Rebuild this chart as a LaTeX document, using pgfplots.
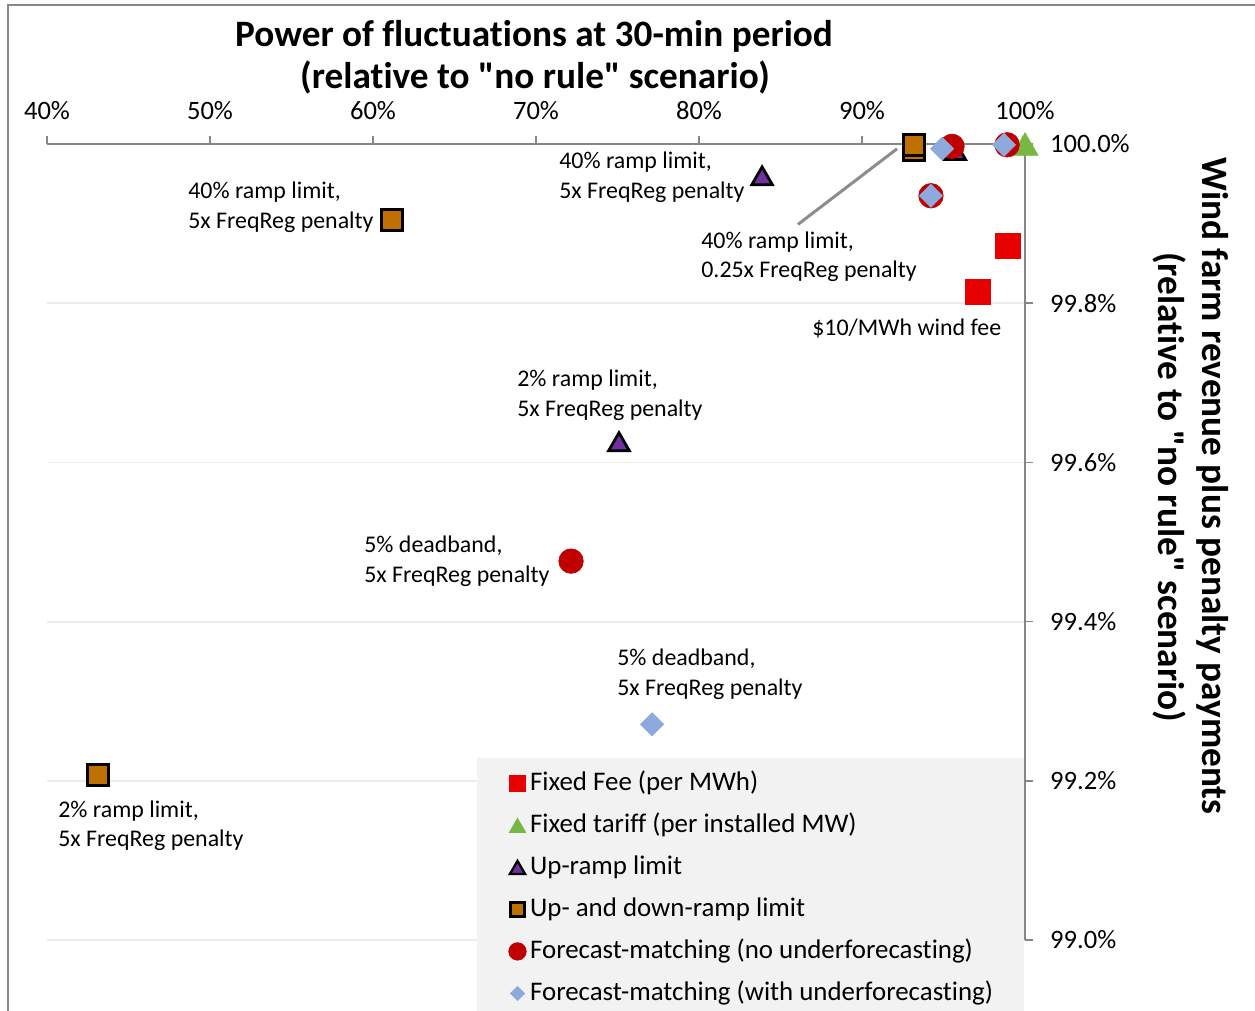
\documentclass[border=0pt]{standalone}
\usepackage{fontspec}
\setmainfont{Carlito}[Ligatures={NoCommon}]
\usepackage{pgfplots}
\pgfplotsset{compat=1.18}
\definecolor{axgray}{HTML}{878787}
\definecolor{gridgray}{HTML}{ECECEC}
\definecolor{feered}{HTML}{E60000}
\definecolor{tariffgreen}{HTML}{77B843}
\definecolor{rampurple}{HTML}{7030A0}
\definecolor{rampor}{HTML}{C07000}
\definecolor{fmred}{HTML}{C00000}
\definecolor{fmblue}{HTML}{8EA9DB}
\definecolor{legbg}{HTML}{F2F2F2}
\definecolor{linegray}{HTML}{8C8C8C}
\newcommand\fk{\fontsize{15.1}{18}\selectfont}
\newcommand\fs{\fontsize{13.6}{16}\selectfont}
\newcommand\fl{\fontsize{15.3}{18}\selectfont}
\newcommand\ft{\bfseries\fontsize{21.2}{25}\selectfont}
\begin{document}
\begin{tikzpicture}[x=0.2mm,y=-0.2mm]
\useasboundingbox (0,0) rectangle (1255,1010);
\draw[axgray, line width=0.3mm] (8,1012) -- (8,5) -- (1257,5);
\begin{axis}[
  at={(9.4mm,-188mm)}, anchor=south west,
  scale only axis, width=195.6mm, height=159.2mm,
  xmin=40, xmax=100, ymin=99, ymax=100,
  axis x line=top, axis y line=right,
  axis line style={axgray, line width=0.3mm, -},
  clip=false,
  xtick={40,50,60,70,80,90,100},
  xticklabels={40\%,50\%,60\%,70\%,80\%,90\%,100\%},
  ytick={99,99.2,99.4,99.6,99.8,100},
  yticklabels={99.0\%,99.2\%,99.4\%,99.6\%,99.8\%,100.0\%},
  tick align=outside, major tick length=1.6mm,
  tick style={axgray, line width=0.3mm},
  ymajorgrids, major grid style={gridgray, line width=0.35mm},
  xticklabel style={font=\fk, anchor=base, yshift=3.4mm},
  yticklabel style={font=\fk, anchor=west, xshift=2.2mm},
  legend style={at={(0.4397,0.2286)}, anchor=north west, fill=legbg, draw=none,
    inner xsep=6.2mm, inner ysep=0.8mm, font=\fl, row sep=0pt, column sep=0.7mm,
    nodes={inner sep=0pt, text height=5.7mm, text depth=2.7mm}},
  legend cell align=left,
  legend image code/.code={\path (-1.6mm,0) (1.6mm,0); \draw[#1] plot coordinates {(0mm,0mm)};},
]
\addlegendimage{only marks, mark=square*, mark size=1.65mm, color=feered, line width=0pt}
\addlegendentry{Fixed Fee (per MWh)}
\addlegendimage{only marks, mark=triangle*, mark size=1.9mm, color=tariffgreen, mark options={yshift=-0.47mm}}
\addlegendentry{Fixed tariff (per installed MW)}
\addlegendimage{only marks, mark=triangle*, mark size=1.75mm, draw=black, fill=rampurple, line width=0.45mm, mark options={yshift=-0.44mm}}
\addlegendentry{Up-ramp limit}
\addlegendimage{only marks, mark=square*, mark size=1.4mm, draw=black, fill=rampor, line width=0.45mm}
\addlegendentry{Up- and down-ramp limit}
\addlegendimage{only marks, mark=*, mark size=1.75mm, color=fmred}
\addlegendentry{Forecast-matching (no underforecasting)}
\addlegendimage{only marks, mark=square*, mark size=1.0mm, color=fmblue, mark options={rotate=45}}
\addlegendentry{Forecast-matching (with underforecasting)}
% series
\addplot[forget plot, only marks, mark=square*, mark size=2.45mm, color=feered, line width=0pt]
  coordinates {(98.96,99.872) (97.12,99.814)};
\addplot[forget plot, only marks, mark=triangle*, mark size=3mm, color=tariffgreen, mark options={yshift=-0.75mm}]
  coordinates {(100,100)};
\addplot[forget plot, only marks, mark=triangle*, mark size=2.4mm, draw=black, fill=rampurple, line width=0.55mm, mark options={yshift=-0.6mm}]
  coordinates {(83.87,99.960) (75.09,99.626) (95.71,99.992)};
\draw[linegray, line width=0.6mm] (axis cs:92.15,99.994) -- (axis cs:86.07,99.899);
\addplot[forget plot, only marks, mark=square*, mark size=2.1mm, draw=black, fill=rampor, line width=0.6mm]
  coordinates {(61.17,99.905) (43.13,99.207) (93.19,99.992) (93.19,99.999)};
\addplot[forget plot, only marks, mark=*, mark size=2.45mm, color=fmred]
  coordinates {(72.15,99.476) (94.23,99.935) (95.52,99.997) (98.90,99.999)};
\addplot[forget plot, only marks, mark=square*, mark size=1.63mm, color=fmblue, mark options={rotate=45}]
  coordinates {(77.12,99.271) (94.23,99.935) (94.91,99.994) (98.71,99.999)};
\end{axis}
% titles
\node[anchor=base, font=\ft, inner sep=0] at (534,46) {Power of fluctuations at 30-min period};
\node[anchor=base, font=\ft, inner sep=0] at (535,88) {(relative to \textquotedbl no rule\textquotedbl{} scenario)};
\node[anchor=base, font=\ft, inner sep=0, rotate=-90] at (1202,486) {Wind farm revenue plus penalty payments};
\node[anchor=base, font=\ft, inner sep=0, rotate=-90] at (1158,487) {(relative to \textquotedbl no rule\textquotedbl{} scenario)};
% annotations
\begin{scope}[every node/.style={anchor=base west, font=\fs, inner sep=0}]
\node at (188,198.5) {40\% ramp limit,};
\node at (188,228.5) {5x FreqReg penalty};
\node at (559,168) {40\% ramp limit,};
\node at (559,198) {5x FreqReg penalty};
\node at (701,248) {40\% ramp limit,};
\node at (701,277) {0.25x FreqReg penalty};
\node at (812,335) {\$10/MWh wind fee};
\node at (517,386) {2\% ramp limit,};
\node at (517,416) {5x FreqReg penalty};
\node at (364,552) {5\% deadband,};
\node at (364,582) {5x FreqReg penalty};
\node at (617,665) {5\% deadband,};
\node at (617,695) {5x FreqReg penalty};
\node at (58,817) {2\% ramp limit,};
\node at (58,846) {5x FreqReg penalty};
\end{scope}
\end{tikzpicture}
\end{document}
